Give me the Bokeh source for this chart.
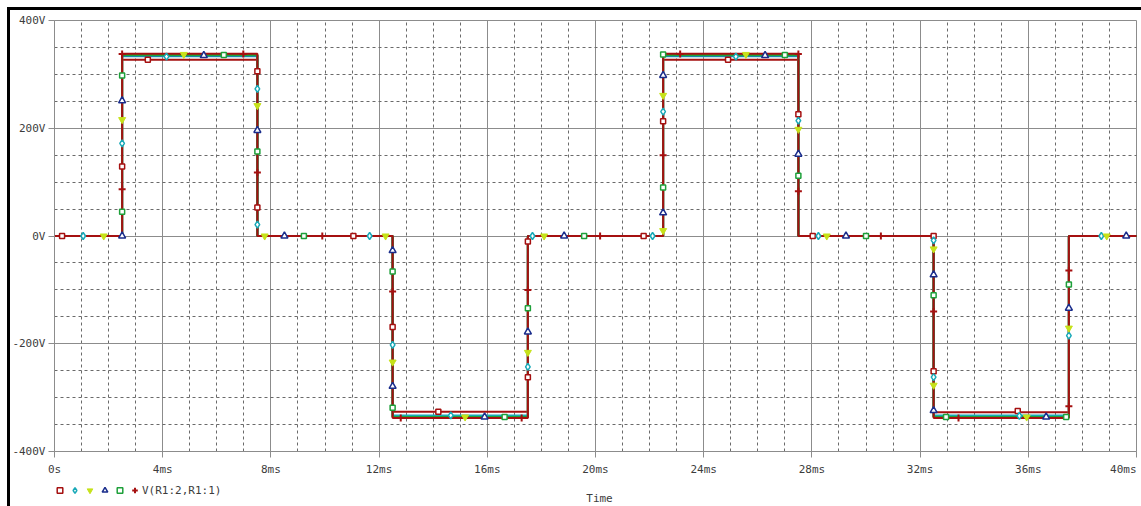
from bokeh.plotting import figure
from bokeh.models import FixedTicker, Legend, LegendItem, Label
from bokeh.embed import file_html
from bokeh.resources import INLINE

# ---------------- data ----------------
# time axis in ms, voltage in V
t_wave = [0, 2.5, 2.5, 7.5, 7.5, 12.5, 12.5, 17.5, 17.5, 22.5, 22.5, 27.5, 27.5, 32.5, 32.5, 37.5, 37.5, 40]

v_red    = [0, 0, 327, 327, 0, 0, -326, -326, 0, 0, 327, 327, 0, 0, -327, -327, 0, 0]
v_cyan   = [0, 0, 333.5, 333.5, 0, 0, -333, -333, 0, 0, 333.5, 333.5, 0, 0, -333, -333, 0, 0]
v_yellow = [0, 0, 337, 337, 0, 0, -336, -336, 0, 0, 337, 337, 0, 0, -336, -336, 0, 0]
v_blue   = [0, 0, 335.5, 335.5, 0, 0, -336, -336, 0, 0, 335.5, 335.5, 0, 0, -336, -336, 0, 0]
v_green  = [0, 0, 336, 336, 0, 0, -336, -336, 0, 0, 336, 336, 0, 0, -336, -336, 0, 0]
v_plus   = [0, 0, 338.5, 338.5, 0, 0, -338, -338, 0, 0, 338.5, 338.5, 0, 0, -338, -338, 0, 0]

# marker positions along each trace
mt_red = [0.28, 2.5, 3.45, 7.5, 7.5, 11.05, 12.5, 14.19, 17.5, 17.5, 21.78, 22.5, 24.9, 27.5, 28.03, 32.5, 32.5, 35.61]
mv_red = [0, 129, 327, 306, 53, 0, -169, -326, -262, -10, 0, 213, 327, 226, 0, 0, -251, -325]

mt_cyan = [1.06, 2.5, 4.14, 7.5, 7.5, 11.65, 12.5, 14.65, 17.5, 17.67, 22.11, 22.5, 25.19, 27.5, 28.24, 32.5, 32.5, 35.67, 37.5, 38.7]
mv_cyan = [0, 172, 333, 273, 21, 0, -202, -333, -243, 0, 0, 231, 333, 214, 0, -8, -262, -334, -185, 0]

mt_yellow = [1.82, 2.5, 4.78, 7.5, 7.77, 12.24, 12.5, 15.18, 17.5, 18.1, 22.5, 22.5, 25.56, 27.5, 28.55, 32.5, 32.5, 35.94, 37.5, 38.9]
mv_yellow = [0, 216, 337, 242, 0, 0, -234, -336, -216, 0, 10, 261, 337, 198, 0, -24, -277, -336, -171, 0]

mt_blue = [2.5, 2.5, 5.52, 7.5, 8.5, 12.5, 12.5, 15.9, 17.5, 18.84, 22.5, 22.5, 26.27, 27.5, 29.26, 32.5, 32.5, 36.66, 37.5, 39.62]
mv_blue = [0, 251, 335, 196, 0, -27, -279, -336, -178, 0, 43, 298, 335, 152, 0, -72, -324, -336, -134, 0]

mt_green = [2.5, 2.5, 6.26, 7.5, 9.22, 12.5, 12.5, 16.64, 17.5, 19.58, 22.5, 22.5, 27.0, 27.5, 30.0, 32.5, 32.96, 37.4, 37.5]
mv_green = [45, 298, 336, 157, 0, -66, -319, -336, -134, 0, 90, 337, 336, 112, 0, -110, -336, -336, -90]

mt_plus = [2.5, 2.5, 6.98, 7.5, 9.9, 12.5, 12.8, 17.27, 17.5, 20.17, 22.5, 23.13, 27.5, 27.5, 30.55, 32.5, 33.42, 37.5, 37.5]
mv_plus = [87, 338, 338, 118, 0, -103, -338, -338, -100, 0, 150, 338, 338, 83, 0, -140, -338, -316, -64]

x_major = [0, 4, 8, 12, 16, 20, 24, 28, 32, 36, 40]
x_labels = ["0s", "4ms", "8ms", "12ms", "16ms", "20ms", "24ms", "28ms", "32ms", "36ms", "40ms"]
y_major = [-400, -200, 0, 200, 400]
y_labels = ["-400V", "-200V", "0V", "200V", "400V"]
trace_name = "V(R1:2,R1:1)"
axis_title = "Time"

# ---------------- layout (pixels) ----------------
W, H = 1141, 506
PX_LEFT, PX_RIGHT, PX_TOP, PX_BOTTOM = 54, 1136, 20, 451   # where 0ms / 40ms / 400V / -400V sit
x0, x1 = x_major[0], x_major[-1]
y0, y1 = y_major[0], y_major[-1]
sx = (PX_RIGHT - PX_LEFT) / (x1 - x0)
sy = (PX_BOTTOM - PX_TOP) / (y1 - y0)
xr = (x0 - PX_LEFT / sx, x1 + (W - PX_RIGHT) / sx)
yr = (y0 - (H - PX_BOTTOM) / sy, y1 + PX_TOP / sy)

# ---------------- styling ----------------
FONT = "DejaVu Sans Mono"
TXT = "#3c3c3c"
GRID = "#8c8c8c"
c_red, c_cyan, c_yellow, c_blue, c_green, c_plus = "#A51010", "#19A9B8", "#C6E21A", "#1A2D8C", "#1EA03A", "#A51010"

p = figure(width=W, height=H, x_range=xr, y_range=yr,
           output_backend="svg", toolbar_location=None,
           min_border_left=0, min_border_right=0, min_border_top=0, min_border_bottom=0)
# white page with the thick black window edge on the left and top
p.styles = {"background": "linear-gradient(#000,#000) 7px 7px / 3px 100% no-repeat, "
                          "linear-gradient(#000,#000) 7px 7px / 100% 3px no-repeat, #ffffff"}
p.background_fill_alpha = 0
p.border_fill_alpha = 0
p.outline_line_color = None

x_minor = [m for m in [i * 1.0 for i in range(41)] if m not in x_major]
y_minor = [m for m in range(-400, 401, 50) if m not in y_major]
p.xaxis.ticker = FixedTicker(ticks=x_major, minor_ticks=x_minor)
p.yaxis.ticker = FixedTicker(ticks=y_major, minor_ticks=y_minor)
ov = {v: l for v, l in zip(x_major, x_labels)}
ov[40] = ""
p.xaxis.major_label_overrides = ov
p.yaxis.major_label_overrides = {v: l for v, l in zip(y_major, y_labels)}

p.xaxis.fixed_location = y0
p.yaxis.fixed_location = x0
p.xaxis.bounds = (x0, x1)
p.yaxis.bounds = (y0, y1)

for ax in (p.xaxis[0], p.yaxis[0]):
    ax.axis_line_color = GRID
    ax.major_tick_line_color = GRID
    ax.major_tick_out = 6
    ax.major_tick_in = 0
    ax.minor_tick_line_color = None
    ax.major_label_text_font = FONT
    ax.major_label_text_font_size = "11px"
    ax.major_label_text_color = TXT
p.yaxis.major_label_standoff = 3
p.xaxis.major_label_standoff = 5

p.xgrid.cross_bounds = (y0, y1)
p.ygrid.cross_bounds = (x0, x1)
for g in (p.xgrid[0], p.ygrid[0]):
    g.grid_line_color = GRID
    g.grid_line_width = 1
    g.minor_grid_line_color = "#6a6a6a"
    g.minor_grid_line_dash = "3 3"
    g.minor_grid_line_width = 1

traces = [
    (v_red, mt_red, mv_red, c_red, "square"),
    (v_cyan, mt_cyan, mv_cyan, c_cyan, "diamond"),
    (v_yellow, mt_yellow, mv_yellow, c_yellow, "inverted_triangle"),
    (v_blue, mt_blue, mv_blue, c_blue, "triangle"),
    (v_green, mt_green, mv_green, c_green, "square"),
    (v_plus, mt_plus, mv_plus, c_plus, "cross"),
]

for vals, _, _, col, _ in traces:
    p.line(t_wave, vals, line_color=col, line_width=2)

marker_renderers = []
for _, mt, mv, col, mk in traces:
    if mk == "cross":
        r = p.scatter(mt, mv, marker=mk, size=7, line_color=col, line_width=2)
    elif mk == "inverted_triangle":
        r = p.scatter(mt, mv, marker=mk, size=7, line_color=col, fill_color=col, line_width=1)
    elif mk in ("diamond", "triangle"):
        r = p.scatter(mt, mv, marker=mk, size=7, line_color=col, fill_color="white", line_width=1.5)
    else:
        r = p.scatter(mt, mv, marker=mk, size=5, line_color=col, fill_color="white", line_width=1.5)
    marker_renderers.append(r)

# series legend row
items = [LegendItem(label="", renderers=[r]) for r in marker_renderers[:-1]]
items.append(LegendItem(label=trace_name, renderers=[marker_renderers[-1]]))
legend = Legend(items=items, orientation="horizontal", location=(52, 9),
                glyph_width=15, glyph_height=14, label_height=14, label_width=0,
                label_standoff=0, spacing=0, padding=0, margin=0,
                label_text_font=FONT, label_text_font_size="11px", label_text_color=TXT,
                background_fill_alpha=0, border_line_color=None)
p.add_layout(legend, "center")

# last x tick label, right-aligned to its tick as in the original
p.add_layout(Label(x=x1, y=H - 469, x_units="data", y_units="screen", text=x_labels[-1],
                   text_align="right", text_baseline="middle", text_font=FONT,
                   text_font_size="11px", text_color=TXT))
# axis title
p.add_layout(Label(x=599, y=H - 498, x_units="screen", y_units="screen", text=axis_title,
                   text_align="center", text_baseline="middle", text_font=FONT,
                   text_font_size="11px", text_color=TXT))

open("out.html", "w").write(file_html(p, INLINE))
